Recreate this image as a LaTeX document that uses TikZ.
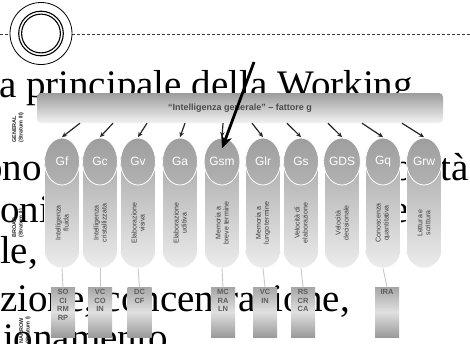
\documentclass[tikz,border=0pt]{standalone}
\usepackage{fontspec}
\setmainfont{Liberation Serif}
\newfontfamily\diagfont{Liberation Sans}
\usetikzlibrary{shapes.geometric,arrows.meta,calc}

\definecolor{barTop}{HTML}{9C9C9C}
\definecolor{barBot}{HTML}{F2F2F2}
\definecolor{barText}{HTML}{4A4A4A}
\definecolor{headTop}{HTML}{9E9E9E}
\definecolor{headBot}{HTML}{B2B2B2}
\definecolor{colTop}{HTML}{A8A8A8}
\definecolor{colBot}{HTML}{ECECEC}
\definecolor{descText}{HTML}{3A3A3A}
\definecolor{boxTop}{HTML}{A6A6A6}
\definecolor{boxMid}{HTML}{E0E0E0}
\definecolor{boxBot}{HTML}{9A9A9A}
\definecolor{boxText}{HTML}{5E5E5E}
\definecolor{linkGray}{HTML}{C8C8C8}
\definecolor{ruleGray}{HTML}{3C3C3C}

\begin{document}
\begin{tikzpicture}[x=1pt,y=-1pt,
  slide/.style={anchor=base west, inner sep=0pt, outer sep=0pt, font=\fontsize{39}{45}\selectfont},
  bar/.style={rectangle, rounded corners=4pt, top color=barTop, bottom color=barBot,
    minimum width=406pt, minimum height=30pt, inner sep=0pt, text=barText,
    font=\diagfont\bfseries\fontsize{9}{10}\selectfont},
  head/.style={ellipse, minimum width=35pt, minimum height=47pt, inner sep=0pt,
    top color=headTop, bottom color=headBot, draw=white, line width=0.8pt,
    text=white, font=\diagfont\fontsize{12}{14}\selectfont},
  column/.style={rectangle, rounded corners=17.5pt, minimum width=35pt, minimum height=118pt,
    inner sep=0pt, top color=colTop, bottom color=colBot, draw=white, line width=0.6pt},
  desc/.style={rotate=90, align=center, inner sep=0pt, text=descText,
    font=\diagfont\fontsize{7}{8}\selectfont},
  narrow/.style={rectangle, minimum width=24pt, minimum height=50pt, inner sep=0pt,
    top color=boxTop, bottom color=boxBot, middle color=boxMid},
  narrowtext/.style={anchor=north, align=center, inner sep=0pt, text=boxText,
    font=\diagfont\bfseries\fontsize{7.5}{8.5}\selectfont},
  link/.style={draw=linkGray, line width=0.9pt},
  feed/.style={draw=black!85, line width=1.2pt, -{Stealth[length=5pt,width=4.5pt]}},
  focus/.style={draw=black, line width=2.8pt, -{Stealth[length=13pt,width=11pt]}},
  stratum/.style={rotate=90, anchor=west, align=left, inner sep=0pt, text=black!85,
    font=\diagfont\bfseries\fontsize{5.5}{6.5}\selectfont},
]
\useasboundingbox (0,0) rectangle (470,343);
\clip (0,0) rectangle (470,343);
\fill[white] (0,0) rectangle (470,343);

% --- slide header: dashed rule with the ring ornament
\coordinate (ringc) at (41,33.5);
\coordinate (ruleL) at (0,34.3);
\coordinate (ruleR) at (470,34.3);
\draw[ruleGray, line width=0.8pt, dash pattern=on 3pt off 2pt] (ruleL) -- ($(ringc)+(-31,0.8)$);
\draw[ruleGray, line width=0.8pt, dash pattern=on 3pt off 2pt] ($(ringc)+(31,0.8)$) -- (ruleR);
\draw[black, line width=0.8pt] (ringc) circle[radius=31];
\draw[black, line width=1.1pt] (ringc) circle[radius=22.3];
\draw[black, line width=1.1pt] (ringc) circle[radius=19.4];

% --- slide body text
\node[slide] (t1) at (-1,97) {a principale della Working};
\node[slide] (t2) at (-16.5,180) {ono};
\node[slide, anchor=base east] (t2r) at (469,180) {ocità};
\node[slide] (t3) at (0,222) {oni};
\node[slide] (t3r) at (391,222) {e};
\node[slide] (t4) at (0,263) {le,};
\node[slide] (t5) at (0,311) {zione, concentrazione,};
\node[slide] (t6) at (3,350) {ionamento};

% --- stratum labels
\node[stratum] (sg) at (18,143) {GENERAL\\(Stratum III)};
\node[stratum] (sb) at (18,238) {BROAD\\(Stratum II)};
\node[stratum] (sn) at (25,344) {NARROW\\(Stratum I)};

% --- general factor
\node[bar] (bar) at (240,108) {“Intelligenza generale” – fattore g};

% --- broad abilities: column body, head, description
\foreach \id/\x/\lab/\txt in {
  gf/62/Gf/{Intelligenza\\fluida},
  gc/100/Gc/{Intelligenza\\cristallizzata},
  gv/138/Gv/{Elaborazione\\visiva},
  ga/180/Ga/{Elaborazione\\uditiva},
  gsm/222/Gsm/{Memoria a\\breve termine},
  glr/263/Glr/{Memoria a\\lungo termine},
  gs/301/Gs/{Velocità di\\elaborazione},
  gds/342/GDS/{Velocità\\decisionale},
  gq/383/Gq/{Conoscenza\\quantitativa},
  grw/424/Grw/{Lettura e\\scrittura}}{
  \node[column] (\id-col) at (\x,209) {};
  \node[head] (\id) at (\x,161.5) {\lab};
  \node[desc] (\id-d) at (\x,223) {\txt};
}

% --- narrow abilities
\foreach \id/\x/\txt in {
  gf/63/{SO\\CI\\RM\\RP},
  gc/100/{VC\\CO\\IN},
  gv/139.5/{DC\\CF},
  gsm/223/{MC\\RA\\LN},
  glr/265/{VC\\IN},
  gs/303/{RS\\CR\\CA},
  gq/387/{IRA}}{
  \node[narrow] (\id-box) at (\x,312) {};
  \node[narrowtext] (\id-bt) at ($(\id-box.north)+(0,2.5)$) {\txt};
  \draw[link] (\id-col.south) -- (\id-box.north);
}

% --- loadings from g to the broad abilities
\foreach \id/\dx in {gf/18, gc/13, gv/9, ga/5, gsm/1, glr/-11, gs/-14, gds/-14, gq/-21, grw/-22}{
  \draw[feed] ($(\id.north |- bar.south)+(\dx,0)$) -- ($(\id.north)+(0,-0.5)$);
}

% --- emphasis on short-term memory
\coordinate (focustail) at (254,62);
\draw[focus] (focustail) -- ([yshift=13pt]gsm.center);
\end{tikzpicture}
\end{document}
